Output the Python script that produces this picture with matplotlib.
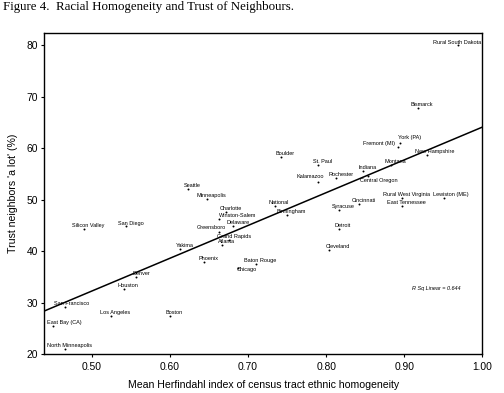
import matplotlib
matplotlib.use('Agg')
import matplotlib.pyplot as plt

# Figure 4 data (x: Herfindahl index, y: trust %)
cities = ['Rural South Dakota', 'Bismarck', 'York (PA)', 'Fremont (MI)',
          'New Hampshire', 'Montana', 'Indiana', 'Central Oregon',
          'Rural West Virginia', 'East Tennessee', 'Lewiston (ME)',
          'Cincinnati', 'Syracuse', 'Detroit', 'Cleveland', 'Boulder',
          'St. Paul', 'Rochester', 'Kalamazoo', 'National', 'Birmingham',
          'Seattle', 'Minneapolis', 'Charlotte', 'Winston-Salem', 'Delaware',
          'Greensboro', 'Grand Rapids', 'Atlanta', 'Yakima', 'Phoenix',
          'Baton Rouge', 'Chicago', 'Silicon Valley', 'San Diego', 'Denver',
          'Houston', 'San Francisco', 'Los Angeles', 'Boston',
          'East Bay (CA)', 'North Minneapolis']
herfindahl = [0.969, 0.917, 0.894, 0.892,
              0.929, 0.883, 0.847, 0.853,
              0.897, 0.897, 0.951,
              0.842, 0.816, 0.816, 0.803, 0.742,
              0.790, 0.813, 0.789, 0.734, 0.750,
              0.623, 0.647, 0.672, 0.663, 0.681,
              0.663, 0.676, 0.666, 0.613, 0.643,
              0.710, 0.687, 0.490, 0.544, 0.557,
              0.541, 0.465, 0.524, 0.600,
              0.450, 0.465]
trust = [80.1, 67.8, 61.0, 60.3,
         58.6, 56.8, 55.6, 54.5,
         50.4, 48.7, 50.3,
         49.2, 48.0, 44.3, 40.3, 58.3,
         56.8, 54.3, 53.5, 48.7, 47.0,
         52.0, 50.1, 47.6, 46.3, 44.9,
         43.8, 42.1, 41.2, 40.4, 38.0,
         37.5, 36.7, 44.3, 44.8, 35.0,
         32.6, 29.2, 27.4, 27.4,
         25.4, 21.0]

# fit line as drawn in the figure
fit_intercept = 0.48
fit_slope = 63.6
r_sq = 0.644

x_ticks = [0.50, 0.60, 0.70, 0.80, 0.90, 1.00]
y_ticks = [20, 30, 40, 50, 60, 70, 80]

# labels that were nudged off the default spot (in points)
label_shift = {'York (PA)': (7.5, 3.6), 'Fremont (MI)': (-14, 2),
	'Winston-Salem': (13, 2), 'Central Oregon': (8, -3),
	'Kalamazoo': (-5, 3.4), 'Cleveland': (6.5, 2.2), 'Chicago': (6.5, -1.2),
	'Greensboro': (-5.5, 2.7), 'New Hampshire': (5.3, 3),
	'East Bay (CA)': (8, 3), 'Lewiston (ME)': (5, 2.4),
	'San Francisco': (5, 2.2), 'Rural South Dakota': (-1, 1.7)}

fig = plt.figure(figsize=(5.04, 3.93), dpi=100)
ax = fig.add_axes([0.0879, 0.0985, 0.8691, 0.8183])

ax.scatter(herfindahl, trust, s=2, color='black', marker='o', lw=0)
for name, xv, yv in zip(cities, herfindahl, trust):
	dx, dy = label_shift.get(name, (3.2, 2.5))
	ax.annotate(name, (xv, yv), xytext=(dx, dy), textcoords='offset points',
		ha='center', va='center', fontsize=4.0, family='Liberation Sans')

xlo, xhi = 0.439, 1.0
ax.plot([xlo, xhi], [fit_intercept + fit_slope * xlo, fit_intercept + fit_slope * xhi],
	color='black', lw=1.1)
ax.text(0.941, 32.7, 'R Sq Linear = %.3f' % r_sq, ha='center', va='center',
	fontsize=4.0, style='italic', family='Liberation Sans')

ax.set_xlim(xlo, xhi)
ax.set_ylim(20, 82.4)
ax.set_xticks(x_ticks)
ax.set_xticklabels(['%.2f' % t for t in x_ticks])
ax.set_yticks(y_ticks)
ax.tick_params(direction='out', length=2.5, width=0.8, labelsize=7.4)
ax.tick_params(axis='x', pad=3)
ax.tick_params(axis='y', pad=2)
for lab in ax.get_xticklabels() + ax.get_yticklabels():
	lab.set_family('Liberation Sans')
for sp in ax.spines.values():
	sp.set_linewidth(1.0)

ax.set_xlabel('Mean Herfindahl index of census tract ethnic homogeneity',
	fontsize=7.55, family='Liberation Sans', labelpad=5.5)
ax.set_ylabel("Trust neighbors 'a lot' (%)", fontsize=7.55,
	family='Liberation Sans', labelpad=6)

fig.text(0.006, 0.982, 'Figure 4.  Racial Homogeneity and Trust of Neighbours.',
	ha='left', va='center', fontsize=9.3, family='Liberation Serif')

fig.savefig('out.png', dpi=100)
